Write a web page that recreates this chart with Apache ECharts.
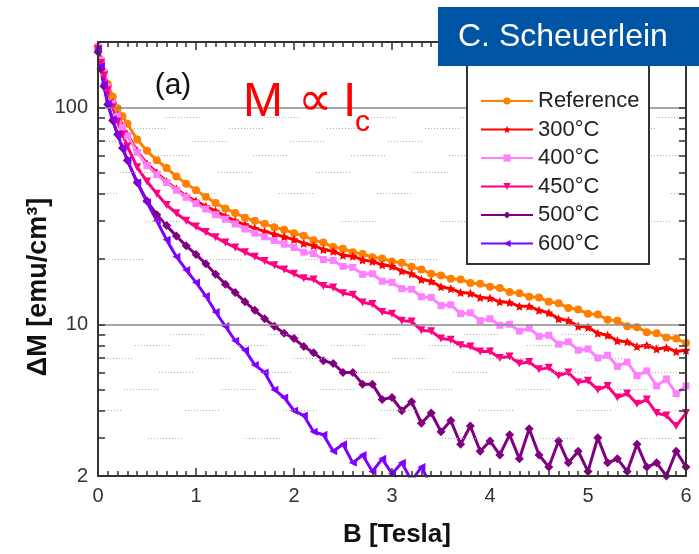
<!DOCTYPE html>
<html><head><meta charset="utf-8">
<script src="https://cdn.jsdelivr.net/npm/echarts@6/dist/echarts.min.js"></script>
<style>html,body{margin:0;padding:0;background:#fff}#c{width:699px;height:554px}</style>
</head><body><div id="c"></div>
<script>
// ---- data ----
const fieldB = [0,0.03,0.06,0.1,0.15,0.2,0.25,0.3,
  0.4,0.5,0.6,0.7,0.8,0.9,1.0,
  1.1,1.2,1.3,1.4,1.5,1.6,1.7,1.8,1.9,2.0,
  2.1,2.2,2.3,2.4,2.5,2.6,2.7,2.8,2.9,3.0,
  3.1,3.2,3.3,3.4,3.5,3.6,3.7,3.8,3.9,4.0,
  4.1,4.2,4.3,4.4,4.5,4.6,4.7,4.8,4.9,5.0,
  5.1,5.2,5.3,5.4,5.5,5.6,5.7,5.8,5.9,6.0];
const seriesNames = ['Reference','300°C','400°C','450°C','500°C','600°C'];
const valsReference = [190,165,145,128,112,99,91,84,
  71,63,57,52.5,48,44.5,41.5,
  38.7,36.2,34.2,32.6,31,30,29.1,28,27.3,26.3,
  25.6,24.4,23.8,22.7,22.3,21.5,21.1,20.4,20.1,19.5,
  19.2,18.4,17.9,17.1,16.8,16.2,16.1,15.5,15.4,14.9,
  14.7,14.1,13.9,13.4,13.3,12.7,12.5,11.9,11.7,11.2,
  11.1,10.5,10.4,9.8,9.7,9.2,9.1,8.7,8.6,8.2];
const vals300 = [190,165,145,125,105,92,82,75,
  63,55,50,45.5,42,39,37,
  35,33.3,31.5,30,28.8,27.7,26.8,26,25.3,24.6,
  23.6,23.1,22.1,21.7,20.8,20.6,19.8,19.5,18.8,18.5,
  17.6,17.1,16.1,15.8,14.9,14.6,14.0,13.9,13.3,13.2,
  12.7,12.6,12.1,12.1,11.6,11.3,10.6,10.4,9.8,9.7,
  9.1,8.9,8.4,8.3,7.9,8.0,7.7,7.8,7.5,7.6];
const vals400 = [190,165,145,124,104,91,81,74,
  62,54,49,45,41.5,38.5,36,
  34,32,30.5,29,27.5,26.3,25.3,24.3,23.4,22.6,
  21.5,21.2,19.9,19.7,18.5,18.3,17.0,17.1,15.8,15.6,
  14.6,14.5,13.4,13.3,12.2,12.3,11.2,11.3,10.4,10.6,
  9.9,10.0,9.3,9.6,8.8,8.9,8.1,8.3,7.6,7.7,
  7.0,7.2,6.4,6.7,5.8,6.1,5.2,5.6,4.8,5.2];
const vals450 = [185,160,140,120,100,86,75,66,
  53,45.5,40,35.5,32.5,30,28.2,
  26.6,25.2,23.8,22.6,21.5,20.5,19.6,18.7,17.9,17.1,
  16.3,16.1,15.0,14.8,13.9,13.7,12.6,12.4,11.4,11.2,
  10.4,10.3,9.4,9.3,8.6,8.5,8.0,7.9,7.5,7.5,
  7.0,7.1,6.6,6.7,6.2,6.3,5.8,6.0,5.4,5.5,
  5.0,5.2,4.6,4.8,4.3,4.5,3.9,3.8,3.4,3.9];
const vals500 = [180,150,125,103,87,75,65,57,
  45,37,32,28.5,25.5,23,21,
  19,17,15.3,14,12.7,11.6,10.6,9.8,9.1,8.6,
  7.9,7.4,6.8,6.6,6.0,6.0,5.3,5.3,4.5,4.6,
  4.0,4.4,3.5,3.9,3.2,3.6,2.8,3.4,2.6,2.9,
  2.5,3.1,2.4,3.3,2.5,2.2,2.9,2.3,2.6,2.1,
  3.0,2.3,2.4,2.1,2.8,2.2,2.3,2.0,2.6,2.2];
const vals600 = [185,155,128,104,88,75,65,57,
  45,36.5,30,24.5,20.5,17.8,15.6,
  13.5,11.4,9.8,8.4,7.6,6.5,6.0,5.0,4.6,4.0,
  3.8,3.2,3.1,2.6,2.8,2.3,2.5,2.1,2.4,2.05,
  2.3,1.9,2.2,1.8,null,null,null,null,null,null,
  null,null,null,null,null,null,null,null,null,null,
  null,null,null,null,null,null,null,null,null,null];
const xTickLabels = [0,1,2,3,4,5,6];
const yTickLabels = [2,10,100];
const yTickValues = [2,3,4,5,6,7,8,9,10,20,30,40,50,60,70,80,90,100,200];
const yDottedGrid = [3,4,5,6,7,8,9,20,30,40,50,60,70,80,90];

// ---- styling ----
const FONT = '"Liberation Sans", Arial, Helvetica, sans-serif';
const colors = ['#ff8000','#ff0000','#ff80ff','#ff0080','#800080','#8000ff'];
const symbols = ['circle',
  'path://M0,-10 L2.9,-4 9.5,-3.1 4.8,1.5 5.9,8.1 0,5 -5.9,8.1 -4.8,1.5 -9.5,-3.1 -2.9,-4Z',
  'rect','triangle','diamond','triangle'];
const rotations = [0,0,0,180,0,90];
const sizes = [8,9,7,8,9,8];
const allVals = [valsReference, vals300, vals400, vals450, vals500, vals600];

const dashPattern = [];
for (let i = 0; i < 12; i++) dashPattern.push(1, 2);
dashPattern[dashPattern.length - 1] = 64;

const series = seriesNames.map((name, k) => {
  const data = [];
  fieldB.forEach((b, i) => { if (allVals[k][i] != null) data.push([b, allVals[k][i]]); });
  const s = {
    name, type: 'line', data,
    xAxisIndex: 0, yAxisIndex: 0,
    symbol: symbols[k], symbolSize: sizes[k], symbolRotate: rotations[k],
    showSymbol: true, clip: true,
    itemStyle: { color: colors[k] },
    lineStyle: { color: colors[k], width: 3 },
    z: 3
  };
  if (k === 0) {
    s.markLine = {
      silent: true, symbol: ['none','none'], label: { show: false },
      animation: false,
      data: yDottedGrid.map((v, i) => ({
        yAxis: v,
        lineStyle: { color: '#b0b0b0', width: 1, type: dashPattern, dashOffset: -((i * 37) % 100) - 50 }
      }))
    };
  }
  return s;
});

const axisLineStyle = { show: true, lineStyle: { color: '#333', width: 2 } };
const tickStyle = { color: '#333', width: 1.5 };

const option = {
  animation: false,
  backgroundColor: '#fff',
  grid: { left: 98, right: 13, top: 42, bottom: 78, containLabel: false },
  xAxis: [
    { type: 'value', position: 'bottom', min: 0, max: 6, interval: 1, z: 10,
      axisLine: axisLineStyle,
      axisTick: { show: true, inside: true, length: 8, lineStyle: tickStyle },
      minorTick: { show: true, splitNumber: 10, length: 5, lineStyle: tickStyle },
      axisLabel: { fontSize: 20, color: '#333', margin: 10, fontFamily: FONT,
        customValues: xTickLabels },
      splitLine: { show: false } },
    { type: 'value', position: 'top', min: 0, max: 6, interval: 1, z: 10,
      axisLine: axisLineStyle,
      axisTick: { show: true, inside: true, length: 8, lineStyle: tickStyle },
      minorTick: { show: true, splitNumber: 10, length: 5, lineStyle: tickStyle },
      axisLabel: { show: false },
      splitLine: { show: false } }
  ],
  yAxis: [
    { type: 'log', logBase: 10, min: 2, max: 200, position: 'left', z: 10,
      axisLine: axisLineStyle,
      axisTick: { show: false },
      axisLabel: { fontSize: 20, color: '#333', margin: 10, fontFamily: FONT,
        customValues: yTickLabels,
        formatter: v => (v > 150 ? '' : String(Math.round(v))) },
      splitLine: { show: true, lineStyle: { color: '#888', width: 1.5 } } },
    { type: 'log', logBase: 10, min: 2, max: 200, position: 'left', offset: 0, z: 10,
      axisLine: { show: false },
      axisTick: { show: true, inside: true, length: 7, lineStyle: tickStyle, customValues: yTickValues },
      axisLabel: { show: false },
      splitLine: { show: false } },
    { type: 'log', logBase: 10, min: 2, max: 200, position: 'right', offset: 0, z: 10,
      axisLine: axisLineStyle,
      axisTick: { show: true, inside: true, length: 7, lineStyle: tickStyle, customValues: yTickValues },
      axisLabel: { show: false },
      splitLine: { show: false } }
  ],
  legend: {
    data: seriesNames, orient: 'vertical', left: 475, top: 85, z: 100,
    itemWidth: 52, itemHeight: 9, itemGap: 6.5, selectedMode: false,
    textStyle: { fontSize: 22, color: '#222', lineHeight: 22, fontFamily: FONT }
  },
  graphic: [
    { type: 'rect', z: 50, shape: { x: 467, y: 50, width: 182, height: 214 },
      style: { fill: '#fff', stroke: '#333', lineWidth: 2 } },
    { type: 'rect', z: 60, shape: { x: 438, y: 7, width: 270, height: 59 },
      style: { fill: '#0054a4' } },
    { type: 'text', z: 61, x: 458, y: 37,
      style: { text: 'C. Scheuerlein', fill: '#fff', fontSize: 32, fontFamily: FONT, verticalAlign: 'middle' } },
    { type: 'text', z: 20, x: 173, y: 86,
      style: { text: '(a)', fill: '#111', fontSize: 30, fontFamily: FONT, align: 'center', verticalAlign: 'middle' } },
    { type: 'text', z: 20, x: 243, y: 103,
      style: { text: 'M', fill: '#ff0000', fontSize: 48, fontFamily: FONT, verticalAlign: 'middle' } },
    { type: 'text', z: 20, x: 298, y: 103,
      style: { text: '\u221D', fill: '#ff0000', fontSize: 48, fontFamily: '"DejaVu Sans", sans-serif', verticalAlign: 'middle' } },
    { type: 'text', z: 20, x: 343, y: 103,
      style: { text: 'I', fill: '#ff0000', fontSize: 48, fontFamily: FONT, verticalAlign: 'middle' } },
    { type: 'text', z: 20, x: 355, y: 123,
      style: { text: 'c', fill: '#ff0000', fontSize: 30, fontFamily: FONT, verticalAlign: 'middle' } },
    { type: 'text', z: 20, x: 39, y: 287, rotation: Math.PI / 2,
      style: { text: '\u0394M [emu/cm\u00B3]', fill: '#111', fontSize: 27, fontWeight: 'bold', fontFamily: FONT, align: 'center', verticalAlign: 'middle' } },
    { type: 'text', z: 20, x: 397, y: 535,
      style: { text: 'B [Tesla]', fill: '#111', fontSize: 26, fontWeight: 'bold', fontFamily: FONT, align: 'center', verticalAlign: 'middle' } }
  ],
  series
};
const chart = echarts.init(document.getElementById('c'), null, { renderer: 'canvas' });
chart.setOption(option);
</script>
</body></html>
